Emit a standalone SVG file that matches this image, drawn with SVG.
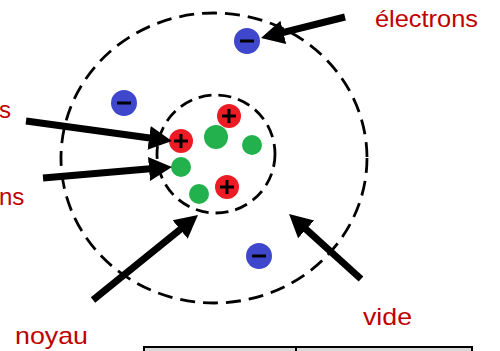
<svg xmlns="http://www.w3.org/2000/svg" width="500" height="351" viewBox="0 0 500 351">
  <style>
    .shell { fill: none; stroke: #000; stroke-width: 2.8; stroke-dasharray: 15 8; }
    .inner { stroke-dasharray: 13 7; }
    .electron { fill: #3f48cc; }
    .proton { fill: #ed1c24; }
    .neutron { fill: #22b14c; }
    .sign { stroke: #000; stroke-width: 3; fill: none; }
    .arrow { stroke: #000; stroke-width: 7; fill: none; marker-end: url(#head); }
    .label { font-family: "Liberation Sans", Arial, sans-serif; font-size: 24px; fill: #c00000; }
  </style>
  <defs>
    <marker id="head" markerUnits="userSpaceOnUse" markerWidth="24" markerHeight="26" refX="10" refY="13" orient="auto">
      <path d="M0,1 L23,13 L0,25 Z" fill="#000"/>
    </marker>
  </defs>

  <!-- atom shells -->
  <g id="outer-shell">
    <ellipse class="shell" cx="214" cy="158" rx="153" ry="145"/>
  </g>
  <g id="nucleus">
    <circle class="shell inner" cx="216" cy="154" r="59"/>
  </g>

  <!-- electrons -->
  <g id="electron-1">
    <circle class="electron" cx="247" cy="41" r="13"/>
    <line class="sign" x1="240" y1="41" x2="254" y2="41"/>
  </g>
  <g id="electron-2">
    <circle class="electron" cx="124" cy="103" r="13"/>
    <line class="sign" x1="117" y1="103" x2="131" y2="103"/>
  </g>
  <g id="electron-3">
    <circle class="electron" cx="259" cy="256" r="13"/>
    <line class="sign" x1="252" y1="256" x2="266" y2="256"/>
  </g>

  <!-- protons -->
  <g id="proton-1">
    <circle class="proton" cx="229" cy="116" r="12"/>
    <path class="sign" d="M222,116 H236 M229,109 V123"/>
  </g>
  <g id="proton-2">
    <circle class="proton" cx="181" cy="141" r="12"/>
    <path class="sign" d="M174,141 H188 M181,134 V148"/>
  </g>
  <g id="proton-3">
    <circle class="proton" cx="227" cy="187" r="12"/>
    <path class="sign" d="M220,187 H234 M227,180 V194"/>
  </g>

  <!-- neutrons -->
  <g id="neutron-1"><circle class="neutron" cx="216" cy="137" r="12"/></g>
  <g id="neutron-2"><circle class="neutron" cx="252" cy="145" r="10"/></g>
  <g id="neutron-3"><circle class="neutron" cx="181" cy="167" r="10"/></g>
  <g id="neutron-4"><circle class="neutron" cx="199" cy="194" r="10"/></g>

  <!-- pointers -->
  <g id="connectors">
    <line class="arrow" x1="26" y1="121" x2="159" y2="139.2"/>
    <line class="arrow" x1="43" y1="178" x2="159" y2="168.1"/>
    <line class="arrow" x1="345" y1="17" x2="273.6" y2="34.8"/>
    <line class="arrow" x1="93" y1="300" x2="187.9" y2="223.2"/>
    <line class="arrow" x1="361" y1="279" x2="298.7" y2="222.7"/>
  </g>

  <!-- labels -->
  <g id="labels">
    <text class="label" x="375" y="27" textLength="103" lengthAdjust="spacingAndGlyphs">électrons</text>
    <text class="label" x="-1" y="118">s</text>
    <text class="label" x="-1" y="205">ns</text>
    <text class="label" x="15" y="344" textLength="73" lengthAdjust="spacingAndGlyphs">noyau</text>
    <text class="label" x="363" y="325" textLength="49" lengthAdjust="spacingAndGlyphs">vide</text>
  </g>

  <!-- table header -->
  <g id="table">
    <rect x="144" y="347" width="328" height="10" fill="#d9d9d9" stroke="#000" stroke-width="2"/>
    <line x1="296" y1="347" x2="296" y2="351" stroke="#000" stroke-width="2"/>
  </g>
</svg>
